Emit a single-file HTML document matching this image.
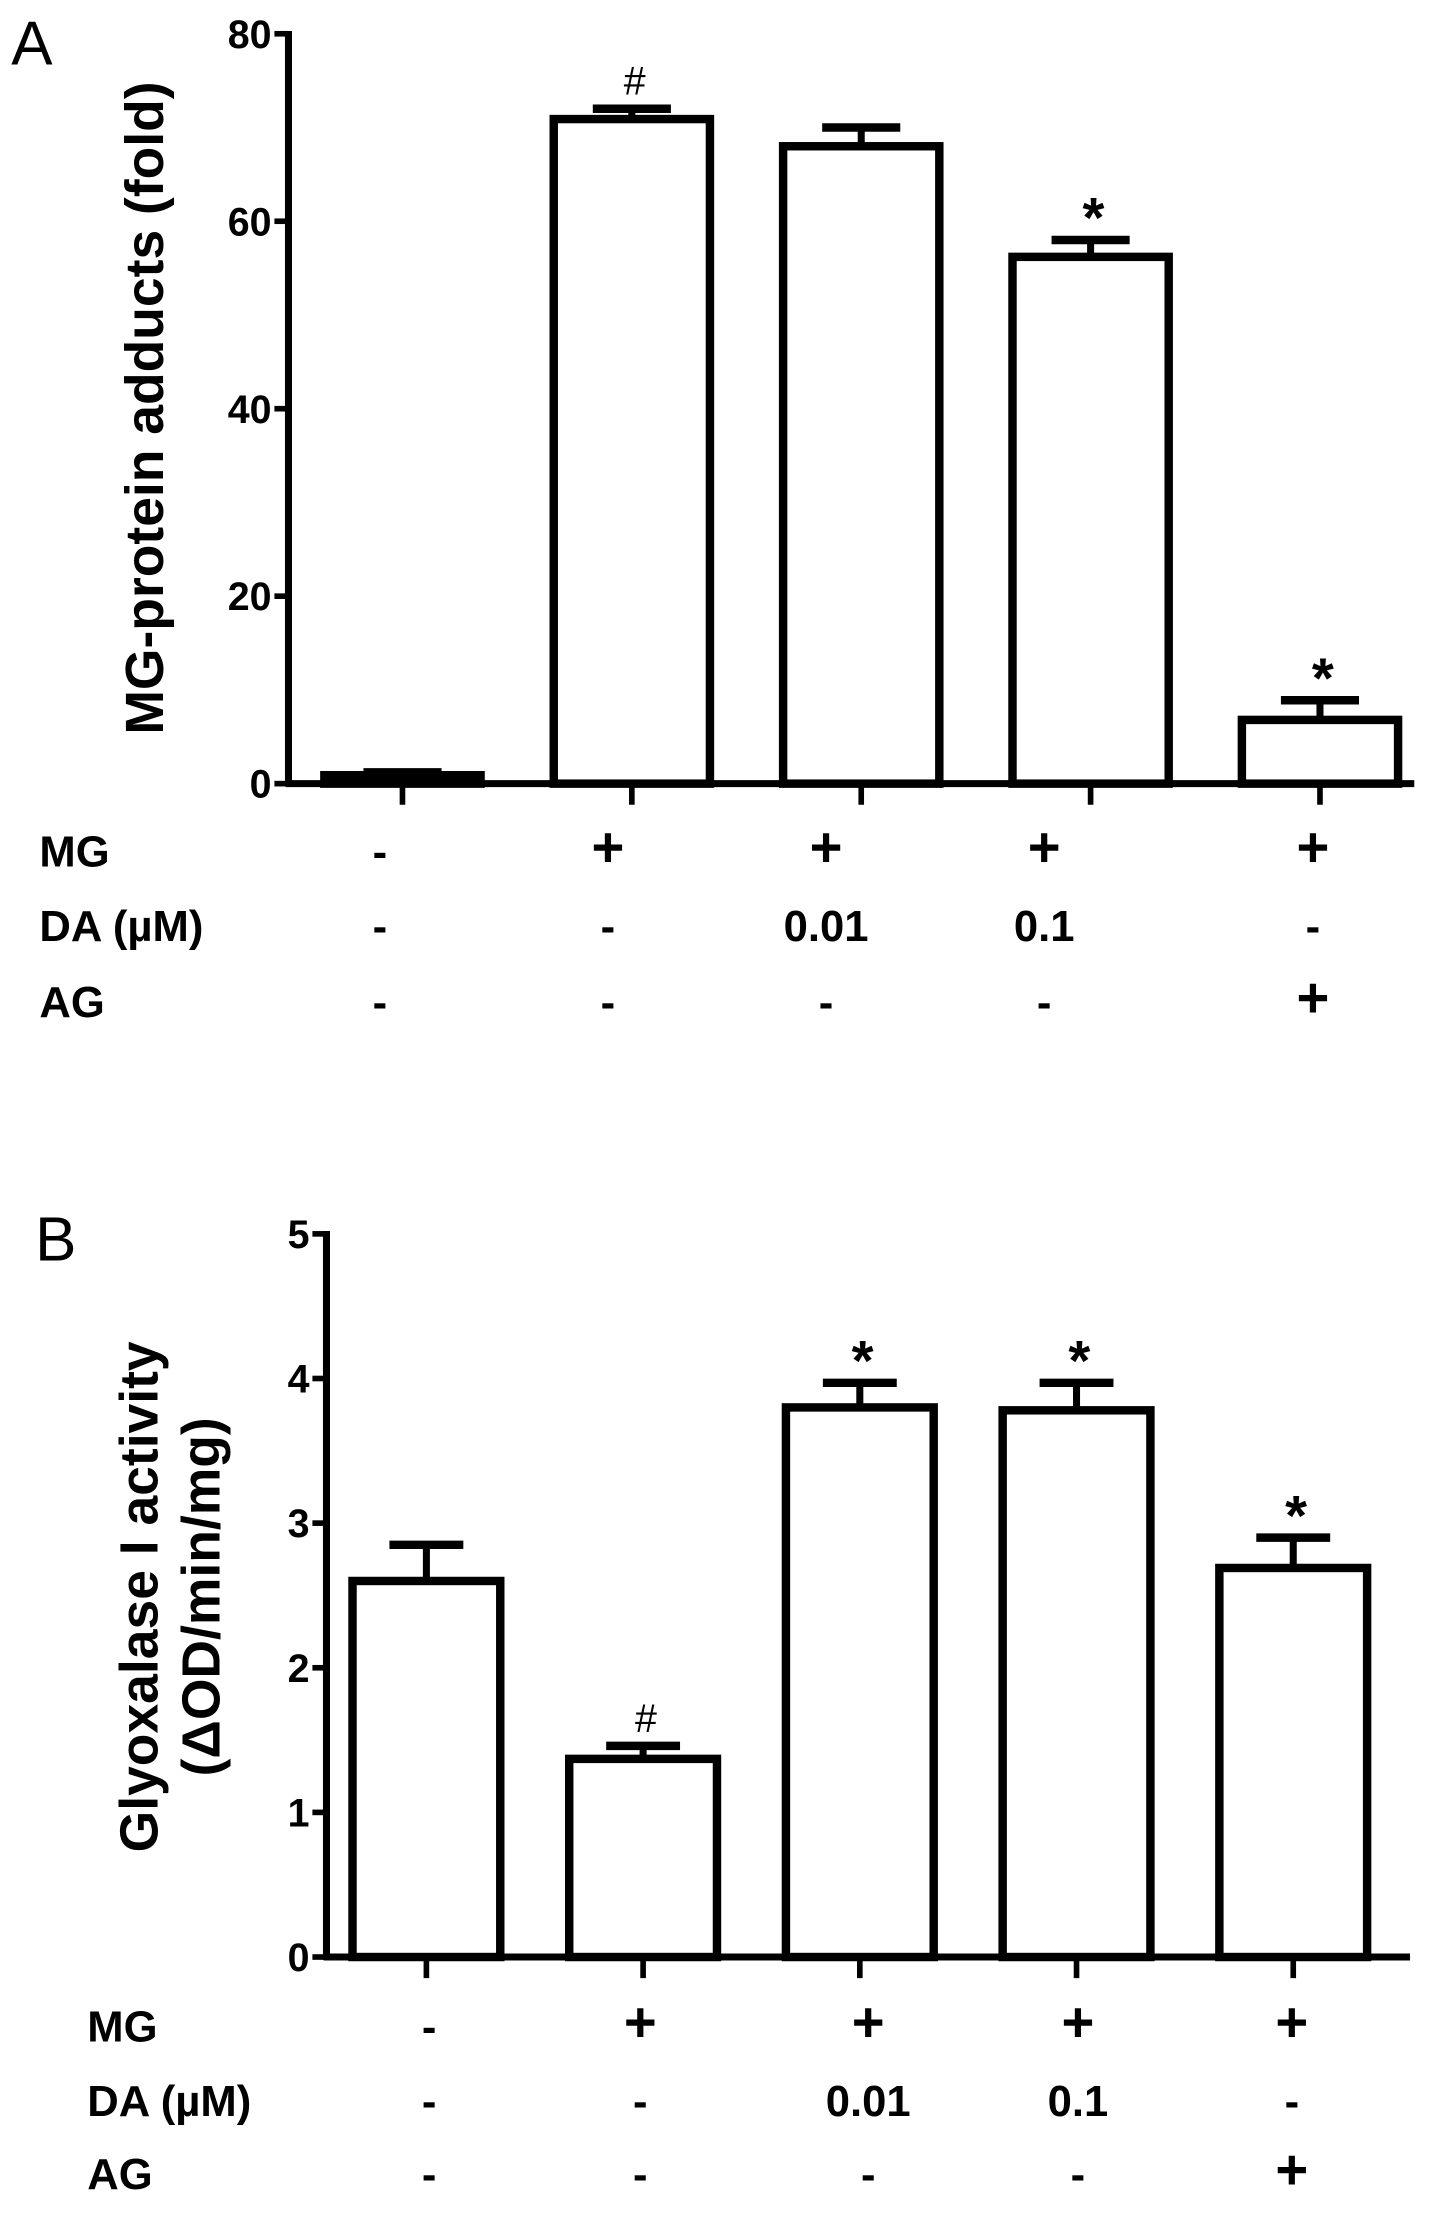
<!DOCTYPE html>
<html><head><meta charset="utf-8"><style>
html,body{margin:0;padding:0;background:#fff;}
svg{display:block;}
text{font-family:"Liberation Sans",sans-serif;fill:#000;}
.b{font-weight:bold;}
</style></head><body>
<svg id="fig" width="1441" height="2237" viewBox="0 0 1024 1590" preserveAspectRatio="none" xmlns="http://www.w3.org/2000/svg">
<text x="8" y="46" font-size="44">A</text>
<text x="25" y="896" font-size="44">B</text>
<g id="chartA"></g>
<g id="chartB"></g>
</svg>
<script>
const categories = ["Control","MG","MG+DA0.01","MG+DA0.1","MG+AG"];
const valuesA = [0.9, 70.9, 68.0, 56.2, 6.8];
const errorsA = [0.3, 1.1, 2.0, 1.8, 2.1];
const marksA = ["", "#", "", "*", "*"];
const ticksA = [0, 20, 40, 60, 80];
const valuesB = [2.6, 1.37, 3.8, 3.78, 2.69];
const errorsB = [0.25, 0.09, 0.17, 0.19, 0.21];
const marksB = ["", "#", "*", "*", "*"];
const ticksB = [0, 1, 2, 3, 4, 5];
const rowLabels = ["MG", "DA (\u00b5M)", "AG"];
const rowMG = ["-", "+", "+", "+", "+"];
const rowDA = ["-", "-", "0.01", "0.1", "-"];
const rowAG = ["-", "-", "-", "-", "+"];

const NS = "http://www.w3.org/2000/svg";
function mk(parent, tag, attrs, txt) {
  const e = document.createElementNS(NS, tag);
  for (const k in attrs) e.setAttribute(k, attrs[k]);
  if (txt !== undefined) e.textContent = txt;
  parent.appendChild(e);
  return e;
}

function drawChart(g, cfg) {
  const yMax = cfg.ticks[cfg.ticks.length - 1];
  const y = v => cfg.y0 - (v / yMax) * (cfg.y0 - cfg.yTop);
  const x = i => cfg.c0 + i * cfg.step;
  const ya = mk(g, "line", {x1: cfg.ax, y1: cfg.yTop - 2, x2: cfg.ax, y2: cfg.y0 + 2, stroke: "#000", "stroke-width": 5});
  
  
  const xa = mk(g, "line", {x1: cfg.ax - 2, y1: cfg.y0, x2: cfg.xEnd, y2: cfg.y0, stroke: "#000", "stroke-width": 5});
  
  
  cfg.ticks.forEach(t => {
    const tk = mk(g, "line", {x1: cfg.ax - 10, y1: y(t), x2: cfg.ax, y2: y(t), stroke: "#000", "stroke-width": 4});
    
    
    const tl = mk(g, "text", {x: cfg.ax - 12, y: y(t) + 10, "font-size": 28, "text-anchor": "end", class: "b"}, String(t));
    
    
  });
  cfg.values.forEach((v, i) => {
    const cx = x(i);
    const tm = mk(g, "line", {x1: cx, y1: cfg.y0, x2: cx, y2: cfg.y0 + 15, stroke: "#000", "stroke-width": 4});
    
    
    const top = y(v + cfg.errors[i]);
    const el = mk(g, "line", {x1: cx, y1: y(v), x2: cx, y2: top, stroke: "#000", "stroke-width": 5});
    
    
    const cap = mk(g, "line", {x1: cx - cfg.bw * 0.25, y1: top, x2: cx + cfg.bw * 0.25, y2: top, stroke: "#000", "stroke-width": 6});
    
    
    const r = mk(g, "rect", {x: cx - cfg.bw / 2, y: y(v), width: cfg.bw, height: cfg.y0 - y(v), fill: "#fff", stroke: "#000", "stroke-width": 6});
    
    
    if (cfg.marks[i]) {
      const star = cfg.marks[i] === "*";
      const m = mk(g, "text", {x: cx + 2, y: top - (star ? 2 : 10), "font-size": star ? 40 : 28, "text-anchor": "middle", class: star ? "b" : ""}, cfg.marks[i]);
      
      
    }
  });
  const tt = mk(g, "text", {transform: "translate(" + cfg.titleX + "," + cfg.titleY + ") rotate(-90)", "text-anchor": "middle", "font-size": 38, class: "b"});
  
  
  cfg.title.forEach((line, k) => {
    mk(tt, "tspan", {x: 0, dy: k === 0 ? 0 : 44}, line);
  });
  const rows = [rowMG, rowDA, rowAG];
  rows.forEach((row, r) => {
    const ry = cfg.rowY[r];
    const lbl = mk(g, "text", {x: cfg.labelX, y: ry + 11, "font-size": 31, class: "b"}, rowLabels[r]);
    
    
    row.forEach((s, i) => {
      const t = mk(g, "text", {x: cfg.colX[i], y: ry + 11, "font-size": s === "+" ? 40 : 31, "text-anchor": "middle", class: "b"}, s);
      
      
    });
  });
}

drawChart(document.getElementById("chartA"), {
  ax: 205, yTop: 24, y0: 557, xEnd: 1005, c0: 286, step: 163, bw: 111,
  ticks: ticksA, values: valuesA, errors: errorsA, marks: marksA,
  title: ["MG-protein adducts (fold)"], titleX: 116, titleY: 290,
  rowY: [605, 658, 712], labelX: 28, colX: [270, 432, 587, 742, 933]
});
drawChart(document.getElementById("chartB"), {
  ax: 232, yTop: 877, y0: 1391, xEnd: 1002, c0: 303, step: 154, bw: 105,
  ticks: ticksB, values: valuesB, errors: errorsB, marks: marksB,
  title: ["Glyoxalase I activity", "(\u0394OD/min/mg)"], titleX: 112, titleY: 1135,
  rowY: [1440, 1493, 1545], labelX: 62, colX: [305, 455, 617, 766, 918]
});
</script>
</body></html>
